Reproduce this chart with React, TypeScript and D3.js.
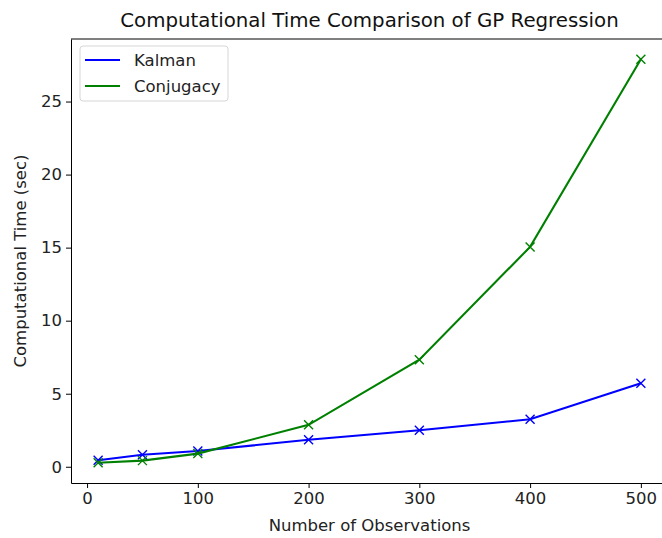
import React, { useEffect, useRef } from "react";
import * as d3 from "d3";

const observations = [10, 50, 100, 200, 300, 400, 500];
const kalmanTimes = [0.45, 0.82, 1.08, 1.85, 2.5, 3.25, 5.72];
const conjugacyTimes = [0.27, 0.42, 0.9, 2.87, 7.33, 15.05, 27.9];
const xTicks = [0, 100, 200, 300, 400, 500];
const yTicks = [0, 5, 10, 15, 20, 25];
const seriesNames = ["Kalman", "Conjugacy"];
const seriesColors = ["#0000ff", "#008000"];

const App = () => {
    const svgRef = useRef<SVGSVGElement | null>(null);

    useEffect(() => {
        const svg = d3.select(svgRef.current);
        svg.selectAll("*").remove();

        const width = 662;
        const height = 538;
        const margin = { top: 39, right: -6, bottom: 55, left: 71 };
        const font = "DejaVu Sans, sans-serif";
        const labelSize = "16.5px";

        svg.attr("width", width).attr("height", height).style("display", "block");
        svg.append("rect").attr("width", width).attr("height", height).attr("fill", "white");

        // axis ranges padded like matplotlib (5% each side)
        const xMin = d3.min(observations)!;
        const xMax = d3.max(observations)!;
        const xPad = (xMax - xMin) * 0.05;
        const allY = kalmanTimes.concat(conjugacyTimes);
        const yMin = d3.min(allY)!;
        const yMax = d3.max(allY)!;
        const yPad = (yMax - yMin) * 0.05;

        const xScale = d3
            .scaleLinear()
            .domain([xMin - xPad, xMax + xPad])
            .range([margin.left, width - margin.right]);
        const yScale = d3
            .scaleLinear()
            .domain([yMin - yPad, yMax + yPad])
            .range([height - margin.bottom, margin.top]);

        const g = svg.append("g");

        // Axes
        const xAxis = g
            .append("g")
            .attr("transform", `translate(0, ${height - margin.bottom})`)
            .call(d3.axisBottom(xScale).tickValues(xTicks).tickSize(5).tickPadding(4).tickSizeOuter(0));
        const yAxis = g
            .append("g")
            .attr("transform", `translate(${margin.left}, 0)`)
            .call(d3.axisLeft(yScale).tickValues(yTicks).tickSize(5).tickPadding(4).tickSizeOuter(0));

        for (const ax of [xAxis, yAxis]) {
            ax.select(".domain").attr("stroke", "#000").attr("stroke-width", 1);
            ax.selectAll(".tick line").attr("stroke", "#000");
            ax.selectAll("text")
                .style("font-size", labelSize)
                .style("font-family", font)
                .attr("fill", "#222");
        }

        // top spine
        g.append("line")
            .attr("x1", margin.left)
            .attr("x2", width - margin.right)
            .attr("y1", margin.top)
            .attr("y2", margin.top)
            .attr("stroke", "#000");

        // Lines + markers
        const series = [kalmanTimes, conjugacyTimes];
        series.forEach((values, i) => {
            const pts = observations.map((x, j) => [x, values[j]] as [number, number]);
            const line = d3
                .line<[number, number]>()
                .x((d) => xScale(d[0]))
                .y((d) => yScale(d[1]));
            g.append("path")
                .datum(pts)
                .attr("d", line)
                .attr("fill", "none")
                .attr("stroke", seriesColors[i])
                .attr("stroke-width", 2.1);
            const s = 4.5;
            g.selectAll(null)
                .data(pts)
                .enter()
                .append("path")
                .attr("d", (d) => {
                    const cx = xScale(d[0]);
                    const cy = yScale(d[1]);
                    return `M${cx - s},${cy - s}L${cx + s},${cy + s}M${cx - s},${cy + s}L${cx + s},${cy - s}`;
                })
                .attr("stroke", seriesColors[i])
                .attr("stroke-width", 1.4)
                .attr("fill", "none");
        });

        // Title & labels
        svg.append("text")
            .attr("x", (margin.left + width - margin.right) / 2)
            .attr("y", 27)
            .attr("text-anchor", "middle")
            .style("font-family", font)
            .style("font-size", "19.8px")
            .attr("fill", "#111")
            .text("Computational Time Comparison of GP Regression");

        svg.append("text")
            .attr("x", (margin.left + width - margin.right) / 2)
            .attr("y", 531)
            .attr("text-anchor", "middle")
            .style("font-family", font)
            .style("font-size", labelSize)
            .attr("fill", "#222")
            .text("Number of Observations");

        svg.append("text")
            .attr("transform", `translate(26, ${(margin.top + height - margin.bottom) / 2}) rotate(-90)`)
            .attr("text-anchor", "middle")
            .style("font-family", font)
            .style("font-size", labelSize)
            .attr("fill", "#222")
            .text("Computational Time (sec)");

        // Legend
        const legend = svg.append("g").attr("transform", "translate(80, 46)");
        legend
            .append("rect")
            .attr("width", 148)
            .attr("height", 55)
            .attr("rx", 3)
            .attr("fill", "white")
            .attr("fill-opacity", 0.8)
            .attr("stroke", "#d6d6d6");
        seriesNames.forEach((name, i) => {
            const y = 14 + i * 26;
            legend
                .append("line")
                .attr("x1", 5)
                .attr("x2", 40)
                .attr("y1", y)
                .attr("y2", y)
                .attr("stroke", seriesColors[i])
                .attr("stroke-width", 2.1);
            legend
                .append("text")
                .attr("x", 54)
                .attr("y", y + 6)
                .style("font-family", font)
                .style("font-size", labelSize)
                .attr("fill", "#222")
                .text(name);
        });
    }, []);

    return <svg ref={svgRef} style={{ position: "absolute", left: 0, top: 0 }}></svg>;
};

export default App;
